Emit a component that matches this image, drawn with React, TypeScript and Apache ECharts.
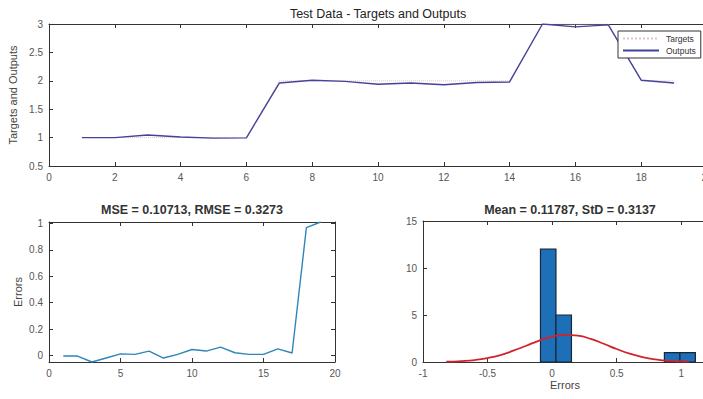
import React, { useEffect, useRef } from "react";
import * as echarts from "echarts";

const xIndex = [1, 2, 3, 4, 5, 6, 7, 8, 9, 10, 11, 12, 13, 14, 15, 16, 17, 18, 19];
const targets = [1, 1, 1, 1, 1, 1, 2, 2, 2, 2, 2, 2, 2, 2, 3, 3, 3, 2, 2];
const outputs = [1.0, 1.0, 1.045, 1.01, 0.99, 0.995, 1.96, 2.01, 1.99, 1.94, 1.96, 1.93, 1.97, 1.98, 3.0, 2.95, 2.985, 2.01, 1.96];
const errors = [-0.005, -0.005, -0.05, -0.02, 0.012, 0.008, 0.033, -0.02, 0.008, 0.045, 0.033, 0.063, 0.02, 0.008, 0.008, 0.05, 0.018, 0.97, 1.012];

// histogram bins: [lower edge, upper edge, count]
const binLo = [-0.09, 0.03, 0.87, 0.99];
const binHi = [0.03, 0.15, 0.99, 1.11];
const binCount = [12, 5, 1, 1];

// fitted normal curve
const curveX = [-0.82, -0.7, -0.6, -0.5, -0.4, -0.3, -0.2, -0.1, 0, 0.1, 0.2, 0.3, 0.4, 0.5, 0.6, 0.7, 0.8, 0.9, 1.0, 1.06];
const curveY = [0.03, 0.1, 0.21, 0.42, 0.74, 1.2, 1.73, 2.28, 2.7, 2.89, 2.8, 2.45, 1.94, 1.38, 0.89, 0.52, 0.27, 0.13, 0.056, 0.03];

const topXTicks = [0, 20, 2];
const topYTicks = [0.5, 3, 0.5];
const errYTicks = [0, 0.2, 0.4, 0.6, 0.8, 1];
const histXTicks = [-1, -0.5, 0, 0.5, 1];

const FONT = "'Liberation Sans', Arial, sans-serif";
const AX = "#333";
const LBL = "#555";
const TICK_FS = 10;
const NAME_FS = 11;

function App() {
  const ref = useRef<HTMLDivElement>(null);
  useEffect(() => {
    if (!ref.current) return;
    const chart = echarts.init(ref.current, undefined, { renderer: "svg" });

    const labelStyle = { color: LBL, fontSize: TICK_FS, fontFamily: FONT, margin: 6 };
    const nameStyle = { color: "#444", fontSize: NAME_FS, fontFamily: FONT };
    const mainAxis = (extra: any) => ({
      axisLine: { show: true, onZero: false, lineStyle: { color: AX, width: 1 } },
      axisTick: { show: true, inside: true, length: 4, lineStyle: { color: AX } },
      axisLabel: labelStyle,
      splitLine: { show: false },
      ...extra,
    });
    const mirrorAxis = (extra: any) => ({
      axisLine: { show: true, onZero: false, lineStyle: { color: AX, width: 1 } },
      axisTick: { show: true, inside: true, length: 4, lineStyle: { color: AX } },
      axisLabel: { show: false },
      splitLine: { show: false },
      ...extra,
    });

    const option: any = {
      animation: false,
      textStyle: { fontFamily: FONT },
      grid: [
        { left: 49, top: 24, width: 658, height: 142, outerBoundsMode: "none", containLabel: false },
        { left: 49, top: 222, width: 286, height: 140, outerBoundsMode: "none", containLabel: false },
        { left: 423, top: 221, width: 284, height: 141, outerBoundsMode: "none", containLabel: false },
      ],
      xAxis: [
        mainAxis({ type: "value", gridIndex: 0, min: topXTicks[0], max: topXTicks[1], interval: topXTicks[2] }),
        mainAxis({ type: "value", gridIndex: 1, min: 0, max: 20, interval: 5 }),
        mainAxis({
          type: "value", gridIndex: 2, min: -1, max: 1.2,
          axisTick: { show: true, inside: true, length: 4, lineStyle: { color: AX }, customValues: histXTicks },
          axisLabel: { ...labelStyle, customValues: histXTicks },
          name: "Errors", nameLocation: "middle", nameGap: 17,
          nameTextStyle: nameStyle,
        }),
        mirrorAxis({ type: "value", gridIndex: 0, position: "top", min: 0, max: 20, interval: 2 }),
        mirrorAxis({ type: "value", gridIndex: 1, position: "top", min: 0, max: 20, interval: 5 }),
        mirrorAxis({ type: "value", gridIndex: 2, position: "top", min: -1, max: 1.2,
          axisTick: { show: true, inside: true, length: 4, lineStyle: { color: AX }, customValues: histXTicks } }),
      ],
      yAxis: [
        mainAxis({
          type: "value", gridIndex: 0, min: topYTicks[0], max: topYTicks[1], interval: topYTicks[2],
          name: "Targets and Outputs", nameLocation: "middle", nameGap: 23,
          nameTextStyle: nameStyle,
        }),
        mainAxis({
          type: "value", gridIndex: 1, min: -0.05, max: 1.012,
          axisTick: { show: true, inside: true, length: 4, lineStyle: { color: AX }, customValues: errYTicks },
          axisLabel: { ...labelStyle, customValues: errYTicks },
          name: "Errors", nameLocation: "middle", nameGap: 26,
          nameTextStyle: nameStyle,
        }),
        mainAxis({ type: "value", gridIndex: 2, min: 0, max: 15, interval: 5 }),
        mirrorAxis({ type: "value", gridIndex: 0, position: "right", min: 0.5, max: 3, interval: 0.5 }),
        mirrorAxis({ type: "value", gridIndex: 1, position: "right", min: -0.05, max: 1.012,
          axisTick: { show: true, inside: true, length: 4, lineStyle: { color: AX }, customValues: errYTicks } }),
        mirrorAxis({ type: "value", gridIndex: 2, position: "right", min: 0, max: 15, interval: 5 }),
      ],
      legend: {
        orient: "vertical",
        left: 618,
        top: 31,
        padding: [3, 5, 3, 4],
        itemGap: 3,
        itemWidth: 36,
        itemHeight: 8,
        backgroundColor: "#fff",
        borderColor: "#333",
        borderWidth: 1,
        borderRadius: 0,
        itemStyle: { opacity: 0 },
        textStyle: { fontSize: 8.5, color: "#333", fontFamily: FONT, padding: [0, 0, 0, 2] },
        data: ["Targets", "Outputs"],
      },
      series: [
        {
          name: "Targets",
          type: "line",
          xAxisIndex: 0, yAxisIndex: 0,
          data: xIndex.map((x, i) => [x, targets[i]]),
          symbol: "none",
          lineStyle: { color: "#e2c4c4", width: 1, type: "dotted" },
          itemStyle: { color: "#e2c4c4" },
          z: 1,
        },
        {
          name: "Outputs",
          type: "line",
          xAxisIndex: 0, yAxisIndex: 0,
          data: xIndex.map((x, i) => [x, outputs[i]]),
          symbol: "none",
          lineStyle: { color: "#43439c", width: 1.4 },
          itemStyle: { color: "#43439c" },
          z: 2,
        },
        {
          name: "ErrorsLine",
          type: "line",
          xAxisIndex: 1, yAxisIndex: 1,
          data: xIndex.map((x, i) => [x, errors[i]]),
          symbol: "none",
          lineStyle: { color: "#2f86b8", width: 1.4 },
        },
        {
          name: "Hist",
          type: "custom",
          xAxisIndex: 2, yAxisIndex: 2,
          data: binLo.map((lo, i) => [lo, binHi[i], binCount[i]]),
          encode: { x: [0, 1], y: 2 },
          renderItem: (params: any, api: any) => {
            const p0 = api.coord([api.value(0), api.value(2)]);
            const p1 = api.coord([api.value(1), 0]);
            return {
              type: "rect",
              shape: { x: p0[0], y: p0[1], width: p1[0] - p0[0], height: p1[1] - p0[1] },
              style: { fill: "#1d6fb8", stroke: "#1a2636", lineWidth: 1.2 },
            };
          },
          z: 2,
        },
        {
          name: "Fit",
          type: "line",
          xAxisIndex: 2, yAxisIndex: 2,
          data: curveX.map((x, i) => [x, curveY[i]]),
          symbol: "none",
          smooth: true,
          lineStyle: { color: "#d2232c", width: 1.8 },
          z: 3,
        },
      ],
      graphic: [
        { type: "text", x: 378, y: 14, style: { text: "Test Data - Targets and Outputs", textAlign: "center", textVerticalAlign: "middle", font: `12.5px ${FONT}`, fill: "#222" } },
        { type: "text", x: 192, y: 210, style: { text: "MSE = 0.10713, RMSE = 0.3273", textAlign: "center", textVerticalAlign: "middle", font: `bold 12.5px ${FONT}`, fill: "#333" } },
        { type: "text", x: 570, y: 210, style: { text: "Mean = 0.11787, StD = 0.3137", textAlign: "center", textVerticalAlign: "middle", font: `bold 12.5px ${FONT}`, fill: "#333" } },
      ],
    };
    chart.setOption(option);
    return () => chart.dispose();
  }, []);
  return (
    <div
      ref={ref}
      style={{ position: "fixed", left: 0, top: 0, width: 703, height: 399, background: "#fff" }}
    />
  );
}

export default App;
